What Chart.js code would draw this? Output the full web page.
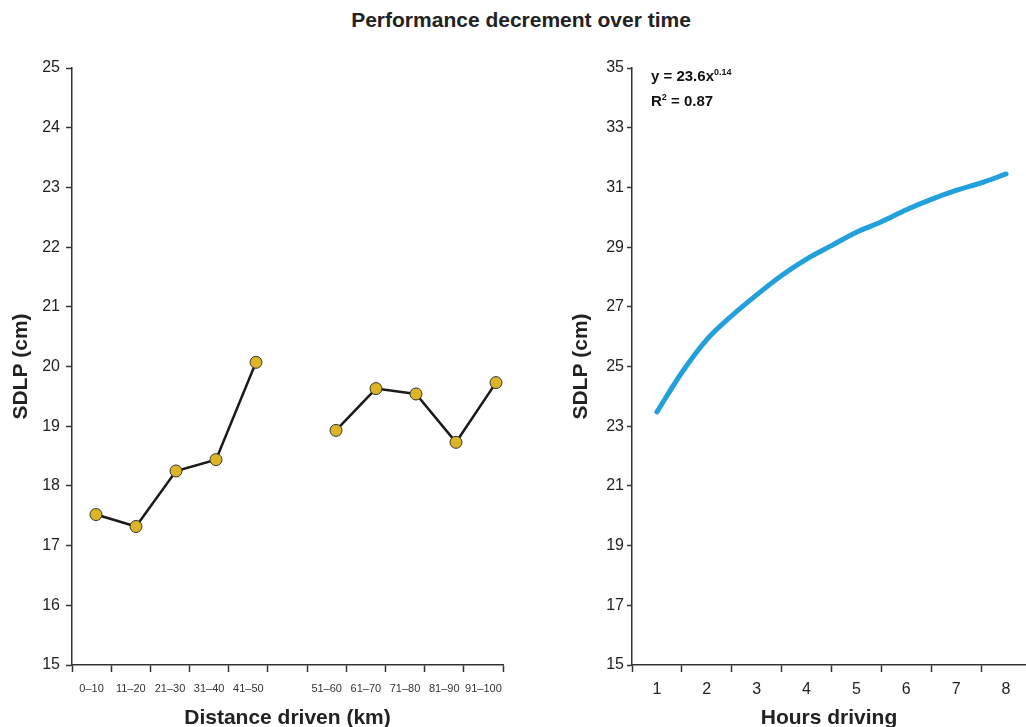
<!DOCTYPE html>
<html>
<head>
<meta charset="utf-8">
<script src="https://cdn.jsdelivr.net/npm/chart.js@4/dist/chart.umd.min.js"></script>
<style>
  body { margin: 0; background: #fff; font-family: "Liberation Sans", Arial, sans-serif; }
  #wrap { position: relative; width: 1026px; height: 727px; overflow: hidden; }
  #title { position: absolute; left: 0; top: 9px; width: 1042px; text-align: center;
           font-weight: bold; font-size: 21px; line-height: 21px; color: #222; }
  .box { position: absolute; top: 0; height: 727px; }
  #eq { position: absolute; left: 651px; top: 63px; font-weight: bold; font-size: 15px; color: #111; line-height: 25px; }
  #eq sup { font-size: 9px; vertical-align: 6px; line-height: 0; }
</style>
</head>
<body>
<div id="wrap">
  <div id="title">Performance decrement over time</div>
  <div class="box" style="left:0;width:520px"><canvas id="left"></canvas></div>
  <div class="box" style="left:560px;width:466px"><canvas id="right"></canvas></div>
  <div id="eq">y = 23.6x<sup>0.14</sup><br>R<sup>2</sup> = 0.87</div>
</div>
<script>
// Left panel: SDLP per 10 km segment (gap between 41–50 and 51–60)
const distanceLabels = ['0–10', '11–20', '21–30', '31–40', '41–50', '', '51–60', '61–70', '71–80', '81–90', '91–100'];
const sdlpByDistance = [17.52, 17.32, 18.25, 18.44, 20.07, null, 18.93, 19.63, 19.54, 18.73, 19.73];
const leftYTicks = [15, 16, 17, 18, 19, 20, 21, 22, 23, 24, 25];

// Right panel: fitted power curve
const hoursX = [1, 1.5, 2, 2.5, 3, 3.5, 4, 4.5, 5, 5.5, 6, 6.5, 7, 7.5, 8];
const sdlpFit = [23.48, 24.8, 25.9, 26.7, 27.4, 28.05, 28.6, 29.05, 29.5, 29.85, 30.25, 30.6, 30.9, 31.15, 31.45];
const hourLabels = [1, 2, 3, 4, 5, 6, 7, 8];
const rightYTicks = [15, 17, 19, 21, 23, 25, 27, 29, 31, 33, 35];

const FONT = '"Liberation Sans", Arial, sans-serif';
const AXIS = '#333';

Chart.defaults.font.family = FONT;
Chart.defaults.color = '#222';

const axisTitle = (text, pad) => ({
    display: true, text: text, color: '#222',
    font: { size: 21, weight: 'bold', lineHeight: 1 },
    padding: pad
});

new Chart(document.getElementById('left'), {
    type: 'line',
    data: {
        labels: distanceLabels,
        datasets: [{
            // plotted on a hidden linear axis: the markers in the original sit slightly right of the label slots
            xAxisID: 'xd',
            data: sdlpByDistance.map((v, i) => ({ x: i, y: v })),
            borderColor: '#1a1a1a',
            borderWidth: 2.5,
            pointRadius: 6,
            pointBackgroundColor: '#dbb526',
            pointBorderColor: '#333',
            pointBorderWidth: 1,
            spanGaps: false,
            tension: 0
        }]
    },
    options: {
        responsive: true,
        maintainAspectRatio: false,
        animation: false,
        layout: { padding: { top: 68, right: 17, left: 0, bottom: 0 } },
        plugins: { legend: { display: false }, tooltip: { enabled: false } },
        scales: {
            x: {
                type: 'category',
                offset: true,
                afterFit: s => { s.height = 62; },
                grid: { offset: true, drawOnChartArea: false, tickLength: 7, tickColor: AXIS, tickWidth: 1.5 },
                border: { color: AXIS, width: 1.5 },
                ticks: { autoSkip: false, maxRotation: 0, font: { size: 11 }, color: '#333', padding: 10 },
                title: axisTitle('Distance driven (km)', { top: 0, bottom: -2 })
            },
            xd: {
                type: 'linear',
                display: false,
                min: -0.6, max: 10.175
            },
            y: {
                min: 15, max: 25,
                afterBuildTicks: s => { s.ticks = leftYTicks.map(v => ({ value: v })); },
                afterFit: s => { s.width = 72; },
                grid: { drawOnChartArea: false, tickLength: 6, tickColor: AXIS, tickWidth: 1.5 },
                border: { color: AXIS, width: 1.5 },
                ticks: { font: { size: 16 }, color: '#222', padding: 6 },
                title: axisTitle('SDLP (cm)', { top: 11, bottom: 0 })
            }
        }
    }
});

new Chart(document.getElementById('right'), {
    type: 'line',
    data: {
        datasets: [{
            data: hoursX.map((x, i) => ({ x: x, y: sdlpFit[i] })),
            borderColor: '#22a0db',
            borderWidth: 5,
            borderCapStyle: 'round',
            pointRadius: 0,
            cubicInterpolationMode: 'monotone'
        }]
    },
    options: {
        responsive: true,
        maintainAspectRatio: false,
        animation: false,
        layout: { padding: { top: 68, right: 0, left: 0, bottom: 0 } },
        plugins: { legend: { display: false }, tooltip: { enabled: false } },
        scales: {
            x: {
                type: 'linear',
                min: 0.5, max: 8.4,
                afterBuildTicks: s => {
                    const t = [];
                    hourLabels.forEach(h => { t.push({ value: h - 0.5 }); t.push({ value: h }); });
                    s.ticks = t;
                },
                afterFit: s => { s.height = 62; },
                grid: {
                    drawOnChartArea: false, tickLength: 7, tickWidth: 1.5,
                    tickColor: c => (c.tick && Number.isInteger(c.tick.value)) ? 'rgba(0,0,0,0)' : AXIS
                },
                border: { color: AXIS, width: 1.5 },
                ticks: {
                    autoSkip: false, maxRotation: 0, font: { size: 16 }, color: '#222', padding: 8,
                    callback: v => Number.isInteger(v) ? String(v) : ''
                },
                title: axisTitle('Hours driving', { top: 0, bottom: -2 })
            },
            y: {
                min: 15, max: 35,
                afterBuildTicks: s => { s.ticks = rightYTicks.map(v => ({ value: v })); },
                afterFit: s => { s.width = 72; },
                grid: { drawOnChartArea: false, tickLength: 5, tickColor: AXIS, tickWidth: 1.5 },
                border: { color: AXIS, width: 1.5 },
                ticks: { font: { size: 16 }, color: '#222', padding: 3 },
                title: axisTitle('SDLP (cm)', { top: 11, bottom: 0 })
            }
        }
    }
});
</script>
</body>
</html>
